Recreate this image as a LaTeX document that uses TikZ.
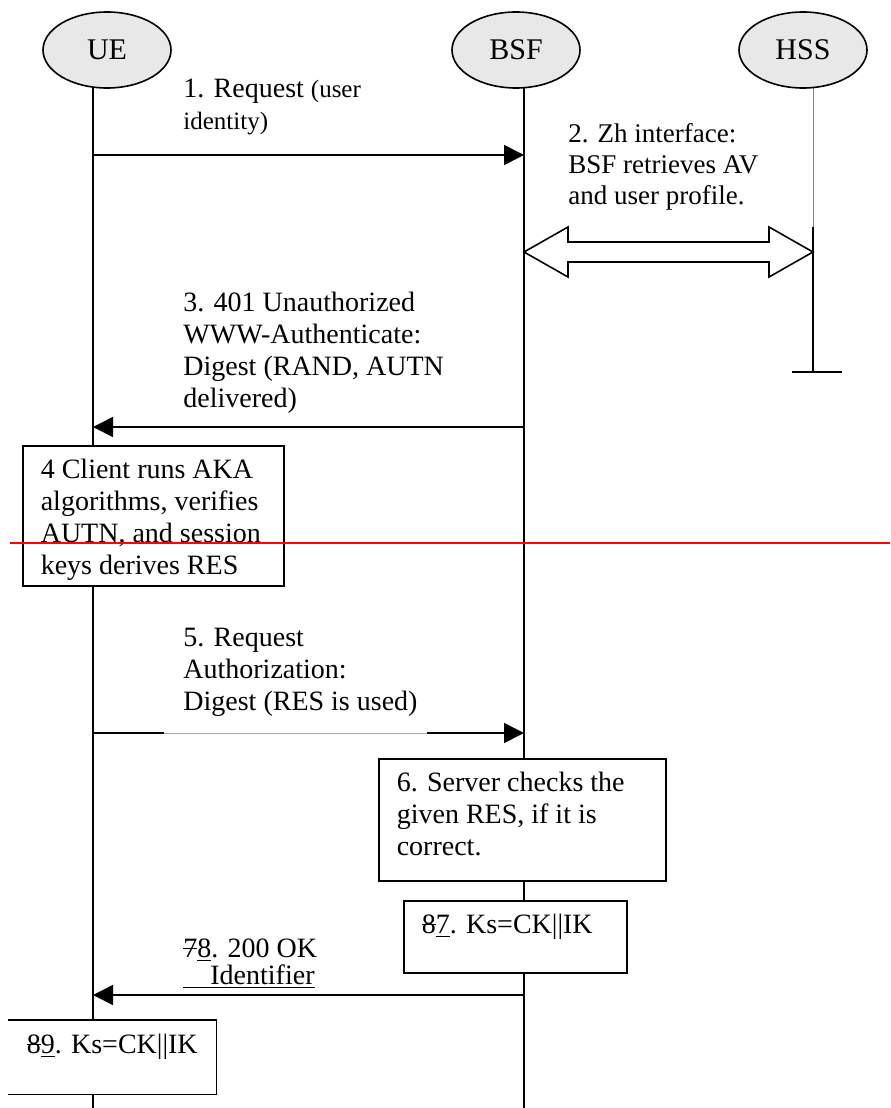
\documentclass[tikz,border=0pt]{standalone}
\usepackage{fontspec}
\setmainfont{Liberation Serif}
\usetikzlibrary{shapes.geometric, arrows.meta, calc, backgrounds}
\tikzstyle{arrow} = [line width=0.8pt,->,>={Triangle[length=10pt,width=10pt]}]
\newcommand{\msgfont}{\fontsize{14}{16}\selectfont}
\newcommand{\smallmsg}{\fontsize{12.5}{16}\selectfont}
\newcommand{\boxtext}[3]{\parbox[c][#2][t]{#1}{\strut#3}}
\newcommand{\struck}[1]{\leavevmode\rlap{\rule[0.3em]{0.5em}{0.6pt}}#1}

\begin{document}
\begin{tikzpicture}[x=0.5pt, y=-0.5pt]
\tikzstyle{actor} = [ellipse, draw=black, line width=0.8pt, fill=black!9, minimum width=64pt, minimum height=38pt, inner sep=0pt, font=\fontsize{15}{18}\selectfont]
\tikzstyle{stepbox} = [rectangle, draw=black, line width=0.8pt, fill=white, anchor=north west, inner xsep=9pt, inner ysep=5pt, font=\msgfont]
\tikzstyle{msg} = [anchor=north west, inner sep=0pt, align=left, font=\msgfont]
\tikzstyle{life} = [line width=0.8pt]

\useasboundingbox (0,0) rectangle (890,1108);

\node (ue) [actor] at (107,50) {UE};
\node (bsf) [actor] at (516,50) {BSF};
\node (hss) [actor] at (803,50) {HSS};

\coordinate (ueend) at (93,1108);
\coordinate (bsfend) at (524,1108);
\coordinate (hssmid) at (813,227);
\coordinate (hssend) at (813,372);
\begin{scope}[on background layer]
\draw [life] (ueend |- ue.center) -- (ueend);
\draw [life] (bsfend |- bsf.center) -- (bsfend);
\draw [gray, line width=0.4pt] (hssmid |- hss.center) -- (hssmid);
\draw [life] (hssmid) -- (hssend);
\end{scope}
\draw [life] ($(hssend)+(-21,0)$) -- ($(hssend)+(29,0)$);

\node (m1) [msg] at (183,75) {\strut 1. Request {\smallmsg(user}\\{\smallmsg identity)}};
\coordinate (m1a) at (93,155);
\coordinate (m1b) at (524,155);
\draw [arrow] (m1a) -- (m1b);

\node (m2) [msg, font=\fontsize{13.5}{15.5}\selectfont] at (568,120) {\strut 2. Zh interface:\\BSF retrieves AV\\and user profile.};
\coordinate (zha) at (524,252);
\coordinate (zhb) at (813,252);
\draw [line width=0.8pt, fill=white] (zha) -- ++(44,-25) -- ++(0,15) -- ($(zhb)+(-44,-10)$) -- ++(0,-15) -- (zhb) -- ++(-44,25) -- ++(0,-15) -- ($(zha)+(44,10)$) -- ++(0,15) -- cycle;

\node (m3) [msg] at (183,289) {\strut 3. 401 Unauthorized\\WWW-Authenticate:\\Digest (RAND, AUTN\\delivered)};
\coordinate (m3a) at (524,427);
\coordinate (m3b) at (93,427);
\draw [arrow] (m3a) -- (m3b);

\node (aka) [stepbox] at (22,445) {\boxtext{112.5pt}{60pt}{4 Client runs AKA\\algorithms, verifies\\AUTN, and session\\keys derives RES}};

\coordinate (cuta) at (10,543);
\coordinate (cutb) at (890,543);
\draw [red, line width=1pt] (cuta) -- (cutb);

\node (m5) [msg] at (183,624) {\strut 5. Request\\Authorization:\\Digest (RES is used)};
\coordinate (m5a) at (93,733);
\coordinate (m5b) at (164,733);
\coordinate (m5c) at (427,733);
\coordinate (m5d) at (524,733);
\draw [life] (m5a) -- (m5b);
\draw [gray!70, line width=0.4pt] (m5b) -- (m5c);
\draw [arrow] (m5c) -- (m5d);

\node (check) [stepbox] at (378,758) {\boxtext{125.5pt}{51pt}{6. Server checks the\\given RES, if it is\\correct.}};
\node (ksb) [stepbox] at (403,900) {\boxtext{93.5pt}{26pt}{\struck{8}\underline{7}. Ks=CK||IK}};

\node (m8) [msg] at (183,935) {\strut\struck{7}\underline{8}. 200 OK\\[-2.5pt]\underline{\hspace{13.5pt}Identifier}};
\coordinate (m8a) at (524,995);
\coordinate (m8b) at (93,995);
\draw [arrow] (m8a) -- (m8b);

\node (ksu) [stepbox, draw=none] at (8,1020) {\boxtext{85.5pt}{26.5pt}{\struck{8}\underline{9}. Ks=CK||IK}};
\draw [life] (ksu.north west) -- (ksu.north east) -- (ksu.south east) -- (ksu.south west);

\end{tikzpicture}
\end{document}
